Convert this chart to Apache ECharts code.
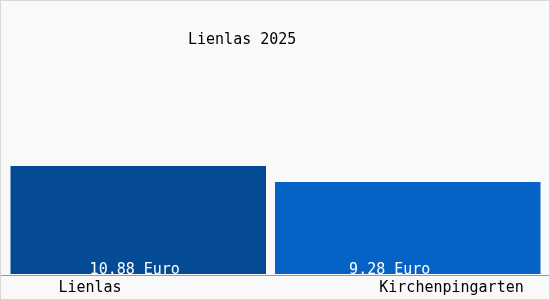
<!DOCTYPE html>
<html><head><meta charset="utf-8">
<script src="https://cdn.jsdelivr.net/npm/echarts@6/dist/echarts.min.js"></script>
<style>html,body{margin:0;padding:0;background:#fff}#c{width:550px;height:300px;box-sizing:border-box;border:1px solid #d8d8d8}</style>
</head><body><div id="c"></div>
<script>
const categories = ['Lienlas', 'Kirchenpingarten'];
const values = [10.88, 9.28];
const barColors = ['#044a94', '#0563c5'];
const titleText = 'Lienlas 2025';
const unit = 'Euro';

const font = '"DejaVu Sans Mono", monospace';
const barWidths = [256, 266];
const labelShift = [-3.5, -18];

const chart = echarts.init(document.getElementById('c'));
chart.setOption({
  backgroundColor: '#f9f9f9',
  animation: false,
  title: { text: titleText, left: 182, top: 27, textStyle: { fontFamily: font, fontSize: 15, fontWeight: 'normal', color: '#000' } },
  grid: [
    { left: 9.5, width: 530, top: 25, bottom: 25 },
    { left: 0, right: 0, top: 25, bottom: 24 }
  ],
  xAxis: [
    { type: 'category', data: categories, gridIndex: 0, show: false },
    {
      type: 'category', data: categories, gridIndex: 1,
      axisLine: { lineStyle: { color: '#999', width: 1 } },
      axisTick: { show: false },
      axisLabel: {
        margin: 6,
        fontFamily: font, fontSize: 15, color: '#000',
        formatter: (v, i) => i === 0 ? '{a|' + v + '}' : '{b|' + v + '}',
        rich: {
          a: { fontFamily: font, fontSize: 15, color: '#000', padding: [0, 96, 0, 0] },
          b: { fontFamily: font, fontSize: 15, color: '#000', padding: [0, 0, 0, 79] }
        }
      }
    }
  ],
  yAxis: [
    { type: 'value', min: 0, max: 25, show: false, gridIndex: 0 },
    { type: 'value', min: 0, max: 25, show: false, gridIndex: 1 }
  ],
  series: categories.map((c, i) => ({
    type: 'bar',
    xAxisIndex: 0, yAxisIndex: 0,
    data: categories.map((_, j) => j === i ? values[j] : '-'),
    barWidth: barWidths[i],
    barGap: '-100%',
    itemStyle: { color: barColors[i] },
    label: {
      show: true, position: 'insideBottom', distance: -4, offset: [labelShift[i], 0],
      fontFamily: font, fontSize: 15, color: '#fff',
      formatter: p => p.value.toFixed(2) + ' ' + unit
    }
  }))
});
</script></body></html>
